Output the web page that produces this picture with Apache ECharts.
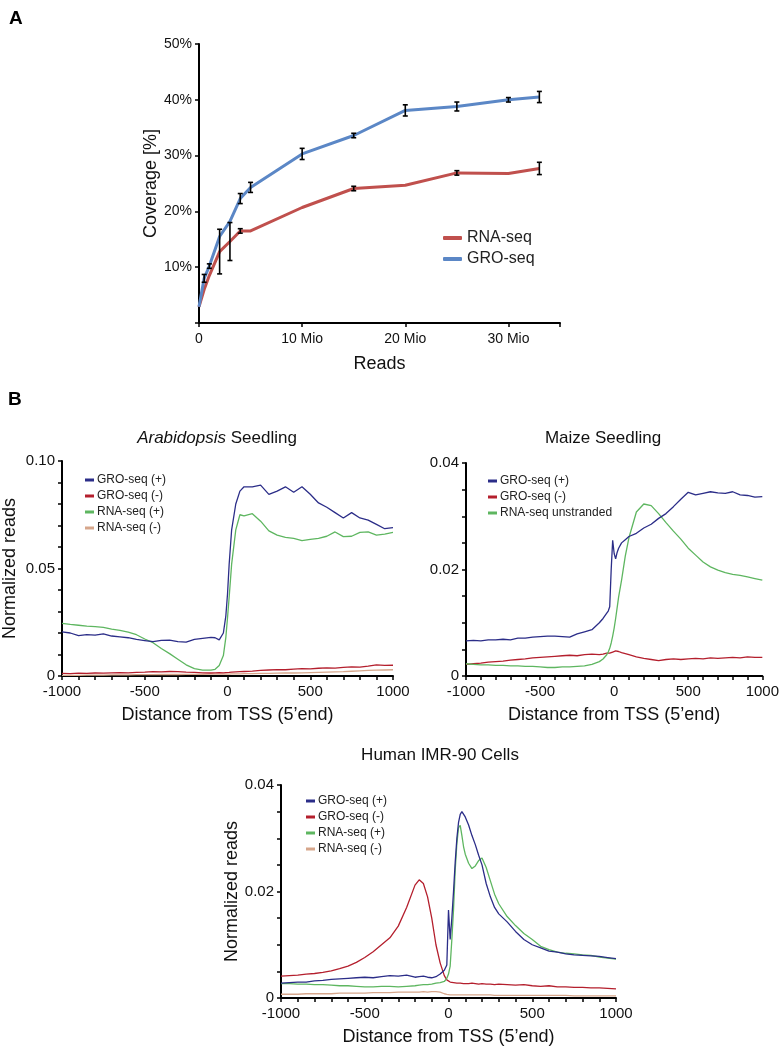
<!DOCTYPE html>
<html>
<head>
<meta charset="utf-8">
<script src="https://cdn.jsdelivr.net/npm/echarts@6/dist/echarts.min.js"></script>
<style>
html,body{margin:0;padding:0;background:#fff;}
#c{width:782px;height:1052px;}
</style>
</head>
<body>
<div id="c"></div>
<script>
// ---------- Panel A data ----------
const readsMio = [0, 0.5, 1, 2, 3, 4, 5, 10, 15, 20, 25, 30, 33];
const groCoverage = [2.9, 8.0, 10.2, 15.5, 18.2, 22.3, 24.3, 30.3, 33.6, 38.1, 38.8, 40.0, 40.5];
const groError = [0, 0.7, 0.4, 0, 0, 0.9, 0.9, 1.0, 0.4, 1.0, 0.8, 0.4, 1.0];
const rnaCoverage = [2.9, 6.0, 8.5, 12.8, 14.6, 16.5, 16.5, 20.7, 24.1, 24.7, 26.9, 26.8, 27.7];
const rnaError = [0, 0, 0, 4.0, 3.4, 0.4, 0, 0, 0.4, 0, 0.4, 0, 1.1];
const coverageTicks = [10, 20, 30, 40, 50];

// ---------- Panel B: Arabidopsis ----------
const araPos = [-1000,-950,-900,-850,-800,-750,-700,-650,-600,-550,-500,-450,-400,-350,-300,-250,-200,-150,-100,
  -75,-50,-25,-10,0,10,25,50,75,100,
  150,200,250,300,350,400,450,500,550,600,650,700,750,800,850,900,950,1000];
const araGroPlus = [0.0205,0.0200,0.0188,0.0192,0.0190,0.0196,0.0186,0.0182,0.0178,0.0170,0.0165,0.0160,0.0166,0.0167,0.0160,0.0158,0.0170,0.0175,0.0180,
  0.0178,0.0168,0.0200,0.0280,0.0380,0.0520,0.0680,0.0800,0.0860,0.0880,
  0.0880,0.0888,0.0845,0.0860,0.0880,0.0855,0.0880,0.0845,0.0805,0.0785,0.0760,0.0735,0.0760,0.0735,0.0725,0.0705,0.0685,0.0690];
const araGroMinus = [0.0012,0.0011,0.0013,0.0012,0.0014,0.0013,0.0015,0.0016,0.0015,0.0017,0.0018,0.0020,0.0019,0.0021,0.0020,0.0018,0.0017,0.0015,0.0014,
  0.0015,0.0016,0.0015,0.0016,0.0017,0.0017,0.0018,0.0019,0.0020,0.0021,
  0.0023,0.0026,0.0028,0.0030,0.0029,0.0032,0.0034,0.0033,0.0036,0.0038,0.0037,0.0040,0.0042,0.0041,0.0046,0.0052,0.0049,0.0050];
const araRnaPlus = [0.0245,0.0240,0.0236,0.0232,0.0230,0.0226,0.0218,0.0212,0.0204,0.0192,0.0172,0.0155,0.0128,0.0104,0.0078,0.0052,0.0034,0.0027,0.0027,
  0.0031,0.0049,0.0095,0.0180,0.0270,0.0366,0.0520,0.0680,0.0750,0.0745,
  0.0755,0.0720,0.0675,0.0655,0.0645,0.0640,0.0630,0.0635,0.0640,0.0650,0.0670,0.0648,0.0650,0.0668,0.0670,0.0655,0.0660,0.0668];
const araRnaMinus = [0.0003,0.0003,0.0003,0.0004,0.0004,0.0004,0.0005,0.0005,0.0005,0.0006,0.0006,0.0006,0.0007,0.0007,0.0007,0.0008,0.0008,0.0008,0.0009,
  0.0009,0.0009,0.0009,0.0009,0.0009,0.0009,0.0010,0.0010,0.0010,0.0011,
  0.0011,0.0012,0.0012,0.0013,0.0014,0.0014,0.0015,0.0016,0.0017,0.0018,0.0019,0.0020,0.0022,0.0024,0.0026,0.0027,0.0028,0.0029];

// ---------- Panel B: Maize ----------
const maizePos = [-1000,-950,-900,-850,-800,-750,-700,-650,-600,-550,-500,-450,-400,-350,-300,-250,-200,-150,
  -100,-75,-50,-40,-30,-20,-10,0,10,20,30,50,75,100,
  150,200,250,300,350,400,450,500,550,600,650,700,750,800,850,900,950,1000];
const maizeGroPlus = [0.0066,0.0067,0.0066,0.0068,0.0068,0.0069,0.0068,0.0071,0.0071,0.0073,0.0074,0.0075,0.0075,0.0074,0.0073,0.0079,0.0083,0.0087,
  0.0100,0.0108,0.0118,0.0122,0.0130,0.0200,0.0255,0.0230,0.0220,0.0232,0.0240,0.0250,0.0256,0.0262,
  0.0268,0.0278,0.0285,0.0296,0.0305,0.0318,0.0332,0.0345,0.0340,0.0343,0.0346,0.0344,0.0343,0.0346,0.0340,0.0339,0.0336,0.0337];
const maizeGroMinus = [0.0022,0.0023,0.0024,0.0026,0.0027,0.0028,0.0030,0.0031,0.0032,0.0034,0.0035,0.0036,0.0037,0.0038,0.0039,0.0038,0.0040,0.0041,
  0.0040,0.0041,0.0043,0.0042,0.0043,0.0044,0.0045,0.0046,0.0047,0.0046,0.0046,0.0044,0.0042,0.0040,
  0.0036,0.0033,0.0031,0.0029,0.0031,0.0032,0.0031,0.0032,0.0033,0.0032,0.0034,0.0033,0.0034,0.0035,0.0034,0.0036,0.0035,0.0035];
const maizeRnaUnstranded = [0.0023,0.0022,0.0021,0.0021,0.0020,0.0020,0.0019,0.0019,0.0018,0.0018,0.0017,0.0016,0.0016,0.0017,0.0017,0.0018,0.0019,0.0022,
  0.0027,0.0032,0.0040,0.0045,0.0052,0.0062,0.0075,0.0090,0.0108,0.0128,0.0148,0.0180,0.0225,0.0260,
  0.0308,0.0323,0.0320,0.0305,0.0288,0.0272,0.0257,0.0240,0.0227,0.0214,0.0205,0.0199,0.0194,0.0191,0.0189,0.0186,0.0183,0.0180];

// ---------- Panel B: Human IMR-90 ----------
const humanPos = [-1000,-950,-900,-850,-800,-750,-700,-650,-600,-550,-500,-450,-400,-350,-300,-250,-200,
  -175,-150,-125,-100,-75,-50,-25,-10,0,
  10,20,30,40,50,60,70,80,90,100,
  120,140,160,180,200,
  225,250,275,300,
  350,400,450,500,550,600,650,700,750,800,850,900,950,1000];
const humanGroPlus = [0.0028,0.0029,0.0030,0.0030,0.0032,0.0033,0.0035,0.0036,0.0037,0.0038,0.0039,0.0038,0.0040,0.0042,0.0041,0.0043,0.0039,
  0.0040,0.0041,0.0039,0.0038,0.0040,0.0045,0.0052,0.0062,0.0165,
  0.0110,0.0150,0.0200,0.0255,0.0300,0.0330,0.0345,0.0350,0.0348,0.0340,
  0.0325,0.0305,0.0288,0.0268,0.0250,
  0.0215,0.0190,0.0170,0.0158,
  0.0143,0.0125,0.0110,0.0100,0.0094,0.0088,0.0086,0.0083,0.0081,0.0080,0.0079,0.0078,0.0076,0.0074];
const humanGroMinus = [0.0041,0.0042,0.0043,0.0045,0.0046,0.0048,0.0051,0.0055,0.0060,0.0067,0.0076,0.0087,0.0100,0.0113,0.0135,0.0170,0.0212,
  0.0222,0.0215,0.0190,0.0150,0.0100,0.0066,0.0042,0.0034,0.0031,
  0.0030,0.0029,0.0029,0.0028,0.0028,0.0029,0.0028,0.0028,0.0027,0.0028,
  0.0027,0.0028,0.0027,0.0026,0.0027,
  0.0026,0.0026,0.0025,0.0026,
  0.0025,0.0024,0.0025,0.0023,0.0022,0.0023,0.0021,0.0021,0.0020,0.0020,0.0019,0.0019,0.0018,0.0017];
const humanRnaPlus = [0.0027,0.0027,0.0026,0.0026,0.0025,0.0025,0.0024,0.0023,0.0023,0.0022,0.0021,0.0021,0.0022,0.0022,0.0021,0.0022,0.0023,
  0.0024,0.0025,0.0025,0.0026,0.0028,0.0029,0.0031,0.0037,0.0045,
  0.0060,0.0110,0.0166,0.0240,0.0290,0.0320,0.0324,0.0305,0.0284,0.0270,
  0.0253,0.0243,0.0248,0.0258,0.0263,
  0.0245,0.0220,0.0195,0.0177,
  0.0153,0.0136,0.0121,0.0110,0.0097,0.0091,0.0086,0.0084,0.0083,0.0081,0.0080,0.0077,0.0075,0.0073];
const humanRnaMinus = [0.0007,0.0007,0.0007,0.0008,0.0008,0.0008,0.0008,0.0009,0.0009,0.0009,0.0009,0.0010,0.0010,0.0010,0.0011,0.0011,0.0011,
  0.0011,0.0012,0.0011,0.0012,0.0012,0.0011,0.0008,0.0007,0.0006,
  0.0006,0.0006,0.0006,0.0006,0.0006,0.0006,0.0006,0.0006,0.0006,0.0006,
  0.0006,0.0006,0.0006,0.0006,0.0006,
  0.0006,0.0006,0.0005,0.0005,
  0.0005,0.0005,0.0005,0.0005,0.0005,0.0005,0.0005,0.0005,0.0004,0.0004,0.0004,0.0004,0.0004,0.0004];

// ---------- helpers ----------
const FONT = '"Liberation Sans", Arial, Helvetica, sans-serif';
const C_GROP = '#2b2d88', C_GROM = '#b41f2d', C_RNAP = '#5eb660', C_RNAM = '#d6a68b';
const pair = (xs, ys) => xs.map((x, i) => [x, ys[i]]);
const triple = (xs, ys, es) => xs.map((x, i) => [x, ys[i], es[i]]);

function stepLabel(step, digits) {
  return function (v) {
    const k = Math.round(v / step);
    if (Math.abs(v - k * step) > 1e-9) return '';
    return k === 0 ? '0' : (k * step).toFixed(digits);
  };
}
function tssX(gridIndex) {
  return {
    gridIndex, type: 'value', min: -1000, max: 1000, interval: 100,
    axisLine: { onZero: false, lineStyle: { color: '#000', width: 2 } },
    axisTick: { length: 4, lineStyle: { color: '#000', width: 1.5 } },
    axisLabel: { formatter: v => (v % 500 === 0 ? String(v) : ''), fontSize: 15, color: '#111', margin: 8, fontFamily: FONT },
    splitLine: { show: false },
    name: 'Distance from TSS (5\u2019end)', nameLocation: 'middle', nameGap: 30,
    nameTextStyle: { fontSize: 18, color: '#111', fontFamily: FONT }
  };
}
function readsY(gridIndex, max, interval, step, withName, gap) {
  const o = {
    gridIndex, type: 'value', min: 0, max, interval,
    axisLine: { show: true, onZero: false, lineStyle: { color: '#000', width: 2 } },
    axisTick: { show: true, length: 4, lineStyle: { color: '#000', width: 1.5 } },
    axisLabel: { formatter: stepLabel(step, 2), fontSize: 15, color: '#111', margin: 7, fontFamily: FONT },
    splitLine: { show: false }
  };
  if (withName) {
    o.name = 'Normalized reads'; o.nameLocation = 'middle'; o.nameGap = gap;
    o.nameTextStyle = { fontSize: 18, color: '#111', fontFamily: FONT };
  }
  return o;
}
function ln(name, data, color, xi) {
  return { name, type: 'line', xAxisIndex: xi, yAxisIndex: xi, data, symbol: 'none',
    lineStyle: { color, width: 1.3 }, itemStyle: { color }, z: 2 };
}
function errBars(data, idx) {
  return {
    type: 'custom', xAxisIndex: idx, yAxisIndex: idx, data, z: 5,
    encode: { x: 0, y: 1 },
    renderItem: function (params, api) {
      const x = api.value(0), y = api.value(1), e = api.value(2);
      if (!e) return null;
      const t = api.coord([x, y + e]), b = api.coord([x, y - e]);
      const c = 2.5, st = { stroke: '#000', lineWidth: 1.6 };
      return { type: 'group', children: [
        { type: 'line', shape: { x1: t[0], y1: t[1], x2: b[0], y2: b[1] }, style: st },
        { type: 'line', shape: { x1: t[0] - c, y1: t[1], x2: t[0] + c, y2: t[1] }, style: st },
        { type: 'line', shape: { x1: b[0] - c, y1: b[1], x2: b[0] + c, y2: b[1] }, style: st }
      ]};
    }
  };
}
function legendB(names, left, top) {
  return { data: names, orient: 'vertical', left, top, itemWidth: 9, itemHeight: 3, itemGap: 4,
    icon: 'rect', padding: 0, selectedMode: false,
    textStyle: { fontSize: 12, color: '#222', fontFamily: FONT, padding: [0, 0, 0, -2] } };
}

const chart = echarts.init(document.getElementById('c'), null, { renderer: 'canvas' });
const option = {
  animation: false,
  backgroundColor: '#fff',
  textStyle: { fontFamily: FONT },
  grid: [
    { left: 199, right: 222, top: 44, bottom: 729 },
    { left: 62, right: 389, top: 461, bottom: 376 },
    { left: 466, right: 16, top: 463, bottom: 376 },
    { left: 281, right: 166, top: 785, bottom: 54 }
  ],
  xAxis: [
    { gridIndex: 0, type: 'value', min: 0, max: 35, interval: 10,
      axisLine: { onZero: false, lineStyle: { color: '#000', width: 2 } },
      axisTick: { length: 4, lineStyle: { color: '#000', width: 1.5 } },
      axisLabel: { formatter: v => (v === 0 ? '0' : (v % 10 === 0 ? v + ' Mio' : '')), fontSize: 14, color: '#111', margin: 9, fontFamily: FONT },
      splitLine: { show: false },
      name: 'Reads', nameLocation: 'middle', nameGap: 32,
      nameTextStyle: { fontSize: 18, color: '#111', fontFamily: FONT } },
    tssX(1), tssX(2), tssX(3)
  ],
  yAxis: [
    { gridIndex: 0, type: 'value', min: 0, max: 50, interval: 10,
      axisLine: { show: true, onZero: false, lineStyle: { color: '#000', width: 2 } },
      axisTick: { show: true, length: 4, lineStyle: { color: '#000', width: 1.5 } },
      axisLabel: { formatter: v => (coverageTicks.indexOf(v) >= 0 ? v + '%' : ''), fontSize: 14, color: '#111', margin: 7, fontFamily: FONT },
      splitLine: { show: false },
      name: 'Coverage [%]', nameLocation: 'middle', nameGap: 30,
      nameTextStyle: { fontSize: 18, color: '#111', fontFamily: FONT } },
    readsY(1, 0.1, 0.01, 0.05, true, 43),
    readsY(2, 0.04, 0.005, 0.02, false, 0),
    readsY(3, 0.04, 0.005, 0.02, true, 40)
  ],
  legend: [
    { data: ['RNA-seq', 'GRO-seq'], orient: 'vertical', left: 443, top: 230, itemWidth: 19, itemHeight: 4,
      itemGap: 5, icon: 'roundRect', padding: 0, selectedMode: false,
      textStyle: { fontSize: 16, color: '#222', fontFamily: FONT } },
    legendB(['GRO-seq (+)', 'GRO-seq (-)', 'RNA-seq (+)', 'RNA-seq (-)'], 85, 474),
    legendB(['GRO-seq (+)', 'GRO-seq (-)', 'RNA-seq unstranded'], 488, 475),
    legendB(['GRO-seq (+)', 'GRO-seq (-)', 'RNA-seq (+)', 'RNA-seq (-)'], 306, 795)
  ],
  graphic: [
    { type: 'text', left: 9, top: 9, style: { text: 'A', fontSize: 19, fontWeight: 'bold', fill: '#000', fontFamily: FONT } },
    { type: 'text', left: 8, top: 390, style: { text: 'B', fontSize: 19, fontWeight: 'bold', fill: '#000', fontFamily: FONT } },
    { type: 'text', x: 217, y: 438, style: { text: '{i|Arabidopsis} Seedling', fontSize: 17, fill: '#111', fontFamily: FONT,
        align: 'center', verticalAlign: 'middle', rich: { i: { fontStyle: 'italic', fontSize: 17, fontFamily: FONT } } } },
    { type: 'text', x: 603, y: 438, style: { text: 'Maize Seedling', fontSize: 17, fill: '#111', fontFamily: FONT, align: 'center', verticalAlign: 'middle' } },
    { type: 'text', x: 440, y: 755, style: { text: 'Human IMR-90 Cells', fontSize: 17, fill: '#111', fontFamily: FONT, align: 'center', verticalAlign: 'middle' } }
  ],
  series: [
    { name: 'RNA-seq', type: 'line', xAxisIndex: 0, yAxisIndex: 0, data: pair(readsMio, rnaCoverage), symbol: 'none',
      lineStyle: { color: '#c0504d', width: 3 }, itemStyle: { color: '#c0504d' }, z: 2 },
    { name: 'GRO-seq', type: 'line', xAxisIndex: 0, yAxisIndex: 0, data: pair(readsMio, groCoverage), symbol: 'none',
      lineStyle: { color: '#5b87c6', width: 3 }, itemStyle: { color: '#5b87c6' }, z: 3 },
    errBars(triple(readsMio, rnaCoverage, rnaError), 0),
    errBars(triple(readsMio, groCoverage, groError), 0),

    ln('RNA-seq (-)', pair(araPos, araRnaMinus), C_RNAM, 1),
    ln('GRO-seq (-)', pair(araPos, araGroMinus), C_GROM, 1),
    ln('RNA-seq (+)', pair(araPos, araRnaPlus), C_RNAP, 1),
    ln('GRO-seq (+)', pair(araPos, araGroPlus), C_GROP, 1),

    ln('GRO-seq (-)', pair(maizePos, maizeGroMinus), C_GROM, 2),
    ln('RNA-seq unstranded', pair(maizePos, maizeRnaUnstranded), C_RNAP, 2),
    ln('GRO-seq (+)', pair(maizePos, maizeGroPlus), C_GROP, 2),

    ln('RNA-seq (-)', pair(humanPos, humanRnaMinus), C_RNAM, 3),
    ln('GRO-seq (-)', pair(humanPos, humanGroMinus), C_GROM, 3),
    ln('RNA-seq (+)', pair(humanPos, humanRnaPlus), C_RNAP, 3),
    ln('GRO-seq (+)', pair(humanPos, humanGroPlus), C_GROP, 3)
  ]
};
chart.setOption(option);
</script>
</body>
</html>
